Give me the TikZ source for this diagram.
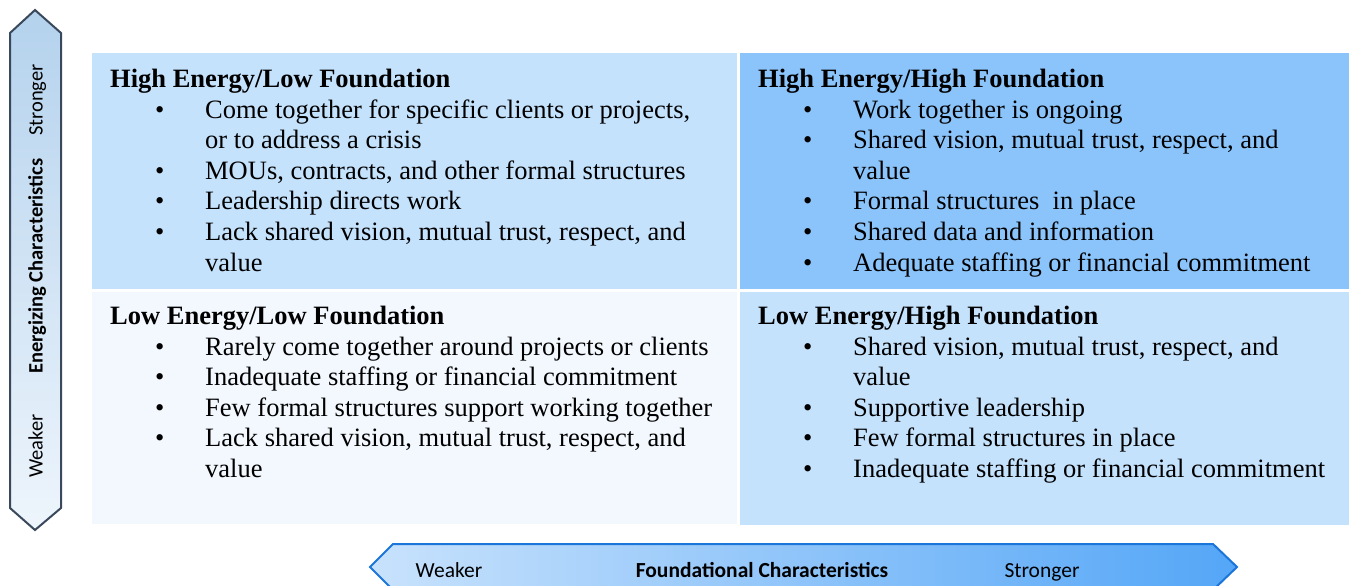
\documentclass[tikz,border=0pt]{standalone}
\usepackage{fontspec}
\setmainfont{Liberation Serif}
\newfontfamily\axisfont{Carlito}

\definecolor{qpale}{RGB}{243,248,254}
\definecolor{qlight}{RGB}{197,226,253}
\definecolor{qmid}{RGB}{139,196,251}
\definecolor{vborder}{RGB}{58,72,92}
\definecolor{vtop}{RGB}{180,210,237}
\definecolor{vmid}{RGB}{196,219,241}
\definecolor{vbottom}{RGB}{238,245,252}
\definecolor{hborder}{RGB}{28,117,217}
\definecolor{hleft}{RGB}{200,226,252}
\definecolor{hright}{RGB}{84,166,247}

\begin{document}
\begin{tikzpicture}[x=1pt,y=-1pt,
  quad/.style={anchor=north west, inner sep=0pt, outer sep=0pt, draw=none},
  txtline/.style={anchor=base west, inner sep=0pt, font=\fontsize{26.5}{30.6}\selectfont},
  qtitle/.style={txtline, font=\fontsize{26.5}{30.6}\selectfont\bfseries},
  vlabel/.style={anchor=base, inner sep=0pt, rotate=90, font=\axisfont\fontsize{20.5}{22}\selectfont},
  vtitlestyle/.style={vlabel, font=\axisfont\fontsize{20.5}{22}\selectfont\bfseries},
  hlabel/.style={anchor=base, inner sep=0pt, font=\axisfont\fontsize{21.5}{23}\selectfont},
  htitlestyle/.style={hlabel, font=\axisfont\fontsize{21.5}{23}\selectfont\bfseries}]
\newcommand{\blt}{\makebox[50pt][l]{\textbullet}}

\useasboundingbox (0,0) rectangle (1349,586);
\clip (0,0) rectangle (1349,586);

% the four quadrants
\node[quad, fill=qlight, minimum width=645pt, minimum height=236pt] (tl) at (92,53) {};
\node[quad, fill=qmid,   minimum width=609pt, minimum height=236pt] (tr) at (740,53) {};
\node[quad, fill=qpale,  minimum width=645pt, minimum height=232pt] (bl) at (92,292) {};
\node[quad, fill=qlight, minimum width=609pt, minimum height=233pt] (br) at (740,292) {};

% top left quadrant
\node[qtitle]  (tlh) at (110,87)    {High Energy/Low Foundation};
\node[txtline] (tl1) at (155,118)   {\blt Come together for specific clients or projects,};
\node[txtline] (tl2) at (205,148.6) {or to address a crisis};
\node[txtline] (tl3) at (155,179.2) {\blt MOUs, contracts, and other formal structures};
\node[txtline] (tl4) at (155,209.8) {\blt Leadership directs work};
\node[txtline] (tl5) at (155,240.4) {\blt Lack shared vision, mutual trust, respect, and};
\node[txtline] (tl6) at (205,271)   {value};

% top right quadrant
\node[qtitle]  (trh) at (758,87)    {High Energy/High Foundation};
\node[txtline] (tr1) at (803,118)   {\blt Work together is ongoing};
\node[txtline] (tr2) at (803,148.6) {\blt Shared vision, mutual trust, respect, and};
\node[txtline] (tr3) at (853,179.2) {value};
\node[txtline] (tr4) at (803,209.8) {\blt Formal structures\ \ in place};
\node[txtline] (tr5) at (803,240.4) {\blt Shared data and information};
\node[txtline] (tr6) at (803,271)   {\blt Adequate staffing or financial commitment};

% bottom left quadrant
\node[qtitle]  (blh) at (110,324)   {Low Energy/Low Foundation};
\node[txtline] (bl1) at (155,355)   {\blt Rarely come together around projects or clients};
\node[txtline] (bl2) at (155,385.6) {\blt Inadequate staffing or financial commitment};
\node[txtline] (bl3) at (155,416.2) {\blt Few formal structures support working together};
\node[txtline] (bl4) at (155,446.8) {\blt Lack shared vision, mutual trust, respect, and};
\node[txtline] (bl5) at (205,477.4) {value};

% bottom right quadrant
\node[qtitle]  (brh) at (758,324)   {Low Energy/High Foundation};
\node[txtline] (br1) at (803,355)   {\blt Shared vision, mutual trust, respect, and};
\node[txtline] (br2) at (853,385.6) {value};
\node[txtline] (br3) at (803,416.2) {\blt Supportive leadership};
\node[txtline] (br4) at (803,446.8) {\blt Few formal structures in place};
\node[txtline] (br5) at (803,477.4) {\blt Inadequate staffing or financial commitment};

% vertical axis: double-headed band
\shade[top color=vtop, middle color=vmid, bottom color=vbottom, draw=vborder, line width=2pt, line join=miter]
  (10,33) -- (35,10) -- (61,33) -- (61,508) -- (35,530) -- (10,508) -- cycle;
\node[vlabel]      (vstrong) at (42.5,100) {Stronger};
\node[vtitlestyle] (vtitle)  at (42.5,266) {Energizing Characteristics};
\node[vlabel]      (vweak)   at (42.5,446) {Weaker};

% horizontal axis: double-headed band
\shade[left color=hleft, right color=hright, draw=hborder, line width=2pt, line join=miter]
  (393,544) -- (1213,544) -- (1237,567) -- (1213,590) -- (393,590) -- (370,567) -- cycle;
\node[hlabel]      (hweak)   at (449,577) {Weaker};
\node[htitlestyle] (htitle)  at (762,577) {Foundational Characteristics};
\node[hlabel]      (hstrong) at (1042,577) {Stronger};
\end{tikzpicture}
\end{document}
